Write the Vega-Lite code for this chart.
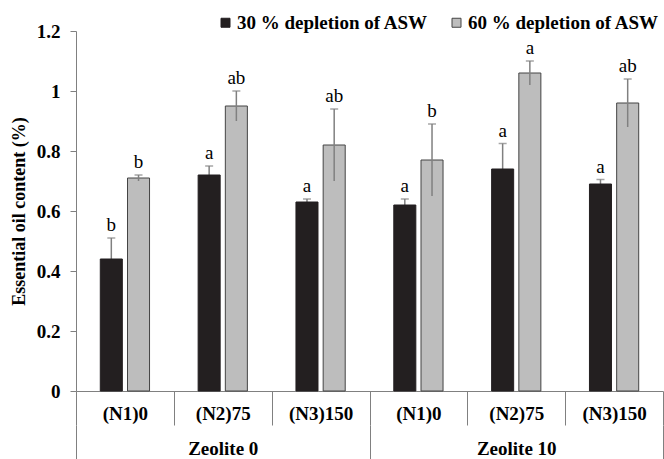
{
  "$schema": "https://vega.github.io/schema/vega-lite/v6.json",
  "width": 587,
  "height": 360,
  "autosize": {"type": "none"},
  "padding": {"left": 76, "top": 31, "right": 1, "bottom": 68},
  "background": "white",
  "config": {
    "view": {"stroke": null},
    "font": "Liberation Serif",
    "axis": {
      "labelFont": "Liberation Serif",
      "titleFont": "Liberation Serif",
      "labelColor": "black",
      "titleColor": "black",
      "domainColor": "#808080",
      "tickColor": "#808080",
      "grid": false
    }
  },
  "data": {
    "values": [
      {"zeolite": "Zeolite 0", "cat": "Zeolite 0|(N1)0", "series": "30 % depletion of ASW", "value": 0.44, "lo": 0.37, "hi": 0.51, "letter": "b"},
      {"zeolite": "Zeolite 0", "cat": "Zeolite 0|(N1)0", "series": "60 % depletion of ASW", "value": 0.71, "lo": 0.70, "hi": 0.72, "letter": "b"},
      {"zeolite": "Zeolite 0", "cat": "Zeolite 0|(N2)75", "series": "30 % depletion of ASW", "value": 0.72, "lo": 0.69, "hi": 0.75, "letter": "a"},
      {"zeolite": "Zeolite 0", "cat": "Zeolite 0|(N2)75", "series": "60 % depletion of ASW", "value": 0.95, "lo": 0.90, "hi": 1.00, "letter": "ab"},
      {"zeolite": "Zeolite 0", "cat": "Zeolite 0|(N3)150", "series": "30 % depletion of ASW", "value": 0.63, "lo": 0.62, "hi": 0.64, "letter": "a"},
      {"zeolite": "Zeolite 0", "cat": "Zeolite 0|(N3)150", "series": "60 % depletion of ASW", "value": 0.82, "lo": 0.70, "hi": 0.94, "letter": "ab"},
      {"zeolite": "Zeolite 10", "cat": "Zeolite 10|(N1)0", "series": "30 % depletion of ASW", "value": 0.62, "lo": 0.60, "hi": 0.64, "letter": "a"},
      {"zeolite": "Zeolite 10", "cat": "Zeolite 10|(N1)0", "series": "60 % depletion of ASW", "value": 0.77, "lo": 0.65, "hi": 0.89, "letter": "b"},
      {"zeolite": "Zeolite 10", "cat": "Zeolite 10|(N2)75", "series": "30 % depletion of ASW", "value": 0.74, "lo": 0.655, "hi": 0.825, "letter": "a"},
      {"zeolite": "Zeolite 10", "cat": "Zeolite 10|(N2)75", "series": "60 % depletion of ASW", "value": 1.06, "lo": 1.02, "hi": 1.10, "letter": "a"},
      {"zeolite": "Zeolite 10", "cat": "Zeolite 10|(N3)150", "series": "30 % depletion of ASW", "value": 0.69, "lo": 0.675, "hi": 0.705, "letter": "a"},
      {"zeolite": "Zeolite 10", "cat": "Zeolite 10|(N3)150", "series": "60 % depletion of ASW", "value": 0.96, "lo": 0.88, "hi": 1.04, "letter": "ab"}
    ]
  },
  "layer": [
    {
      "encoding": {
        "x": {
          "field": "cat",
          "type": "nominal",
          "sort": null,
          "scale": {"paddingInner": 0, "paddingOuter": 0},
          "axis": {
            "title": null,
            "labelExpr": "split(datum.label, '|')[1]",
            "labelAngle": 0,
            "labelFontSize": 19,
            "labelFontWeight": "bold",
            "tickBand": "extent",
            "tickSize": 34,
            "labelBaseline": "middle",
            "labelPadding": -11.5,
            "labelFlush": false
          }
        },
        "xOffset": {
          "field": "series",
          "type": "nominal",
          "scale": {"domain": ["30 % depletion of ASW", "60 % depletion of ASW"], "paddingInner": 0.19, "paddingOuter": 0.893}
        }
      },
      "layer": [
        {
          "transform": [{"filter": "datum.series === '60 % depletion of ASW'"}],
          "mark": {"type": "bar", "strokeWidth": 1},
          "encoding": {
            "y": {
              "field": "value",
              "type": "quantitative",
              "scale": {"domain": [0, 1.2]},
              "axis": {
                "values": [0, 0.2, 0.4, 0.6, 0.8, 1, 1.2],
                "format": "~g",
                "title": "Essential oil content (%)",
                "labelFontSize": 19,
                "labelFontWeight": "bold",
                "titleFontSize": 18,
                "titleFontWeight": "bold",
                "tickSize": 6,
                "labelPadding": 10,
                "titlePadding": 8
              }
            },
            "fill": {
              "field": "series",
              "type": "nominal",
              "scale": {"domain": ["30 % depletion of ASW", "60 % depletion of ASW"], "range": ["#231f20", "#bdbdbd"]},
              "legend": {
                "orient": "none", "legendX": 140, "legendY": -18, "direction": "horizontal",
                "title": null, "symbolType": "square", "symbolSize": 81,
                "labelFontSize": 19, "labelFontWeight": "bold", "labelFont": "Liberation Serif", "labelColor": "black",
                "labelLimit": 0, "columnPadding": 18, "labelOffset": 2, "symbolStrokeWidth": 1
              }
            },
            "stroke": {
              "field": "series",
              "type": "nominal",
              "scale": {"domain": ["30 % depletion of ASW", "60 % depletion of ASW"], "range": ["#231f20", "#444444"]},
              "legend": {
                "orient": "none", "legendX": 140, "legendY": -18, "direction": "horizontal",
                "title": null, "symbolType": "square", "symbolSize": 81,
                "labelFontSize": 19, "labelFontWeight": "bold", "labelFont": "Liberation Serif", "labelColor": "black",
                "labelLimit": 0, "columnPadding": 18, "labelOffset": 2, "symbolStrokeWidth": 1
              }
            }
          }
        },
        {
          "mark": {"type": "rule", "color": "#808080", "strokeWidth": 1.5},
          "encoding": {
            "y": {"field": "lo", "type": "quantitative", "title": "Essential oil content (%)"},
            "y2": {"field": "hi"}
          }
        },
        {
          "transform": [{"filter": "datum.series === '30 % depletion of ASW'"}],
          "mark": {"type": "bar", "strokeWidth": 1},
          "encoding": {
            "y": {"field": "value", "type": "quantitative", "title": "Essential oil content (%)"},
            "fill": {"field": "series", "type": "nominal"},
            "stroke": {"field": "series", "type": "nominal"}
          }
        },
        {
          "mark": {"type": "tick", "color": "#808080", "thickness": 1.5, "size": 8, "orient": "horizontal"},
          "encoding": {
            "y": {"field": "hi", "type": "quantitative", "title": "Essential oil content (%)"}
          }
        },
        {
          "mark": {"type": "text", "font": "Liberation Serif", "fontSize": 19, "dy": -7, "baseline": "alphabetic", "color": "black"},
          "encoding": {
            "y": {"field": "hi", "type": "quantitative", "title": "Essential oil content (%)"},
            "text": {"field": "letter", "type": "nominal"}
          }
        }
      ]
    },
    {
      "mark": {"type": "point", "opacity": 0},
      "encoding": {
        "x": {
          "field": "zeolite",
          "type": "nominal",
          "sort": null,
          "scale": {"paddingInner": 0, "paddingOuter": 0},
          "axis": {
            "orient": "bottom",
            "offset": 34,
            "title": null,
            "domain": false,
            "tickBand": "extent",
            "tickSize": 35,
            "labelAngle": 0,
            "labelFontSize": 19,
            "labelFontWeight": "bold",
            "labelBaseline": "middle",
            "labelPadding": -12
          }
        },
        "y": {"field": "value", "type": "quantitative", "title": "Essential oil content (%)"}
      }
    }
  ],
  "resolve": {"scale": {"x": "independent"}, "axis": {"x": "independent"}}
}
